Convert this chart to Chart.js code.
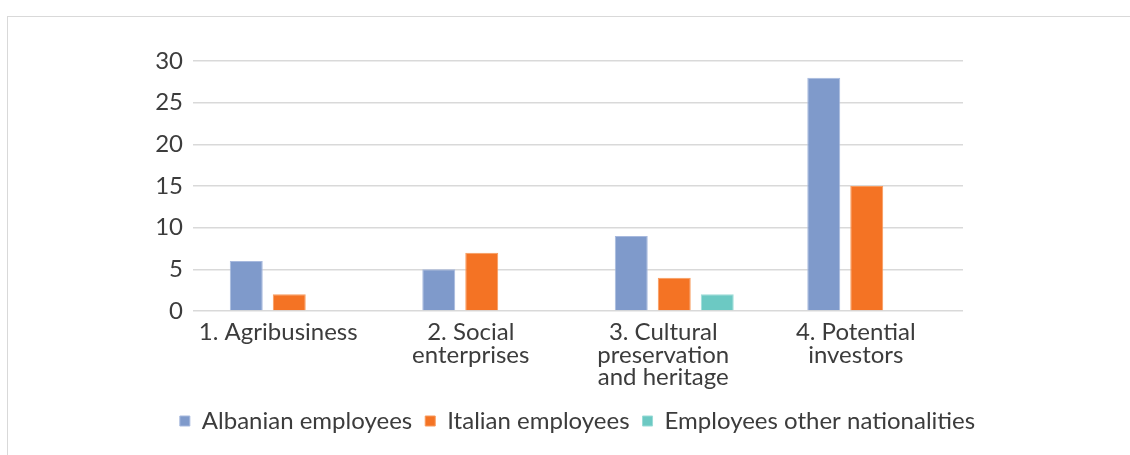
<!DOCTYPE html>
<html>
<head>
<meta charset="utf-8">
<script src="https://cdn.jsdelivr.net/npm/chart.js@4.4.0/dist/chart.umd.min.js"></script>
<style>
  html, body { margin: 0; padding: 0; background: #fff; }
  #frame {
    position: absolute; left: 7px; top: 16px;
    width: 1200px; height: 500px;
    border: 1.5px solid #d9d9d9;
  }
  #wrap { position: absolute; left: 0; top: 0; width: 1130px; height: 455px; }
</style>
</head>
<body>
<div id="frame"></div>
<div id="wrap"><canvas id="myChart" width="1130" height="455"></canvas></div>
<script>
const categories = [
  "1. Agribusiness",
  ["2. Social", "enterprises"],
  ["3. Cultural", "preservation", "and heritage"],
  ["4. Potential", "investors"],
];
const albanian = [6, 5, 9, 28];
const italian = [2, 7, 4, 15];
const otherNat = [0, 0, 2, 0];
const yTicks = [0, 5, 10, 15, 20, 25, 30];

const FONT = "Lato, 'Open Sans', sans-serif";
const TEXT = "#3c3c3c";

window.onload = function () {
  const ctx = document.getElementById("myChart").getContext("2d");
  new Chart(ctx, {
    type: "bar",
    data: {
      labels: categories,
      datasets: [
        {
          label: "Albanian employees",
          data: albanian,
          backgroundColor: "#7f9acb",
          borderColor: "#a7b9de",
          borderWidth: 1,
        },
        {
          label: "Italian employees",
          data: italian,
          backgroundColor: "#f47324",
          borderColor: "#f89a5c",
          borderWidth: 1,
        },
        {
          label: "Employees other nationalities",
          data: otherNat,
          backgroundColor: "#6cc9c3",
          borderColor: "#9adcd7",
          borderWidth: 1,
        },
      ],
    },
    options: {
      responsive: false,
      animation: false,
      categoryPercentage: 0.67,
      barPercentage: 0.767,
      layout: {
        padding: { left: 25, right: 0, top: 61, bottom: 12 },
      },
      plugins: {
        legend: {
          position: "bottom",
          labels: {
            boxWidth: 10,
            boxHeight: 10,
            padding: 13,
            color: TEXT,
            font: { family: FONT, size: 24 },
          },
        },
        tooltip: { enabled: false },
      },
      scales: {
        x: {
          grid: { display: false, drawTicks: false },
          border: { display: false },
          ticks: {
            color: TEXT,
            padding: 10,
            labelOffset: -11,
            maxRotation: 0,
            autoSkip: false,
            font: { family: FONT, size: 24, lineHeight: 0.94 },
          },
          afterFit: (scale) => {
            scale.height = 85;
            // let the third label line run below the axis box
            scale._computeLabelArea = () => undefined;
          },
        },
        y: {
          min: 0,
          max: 30,
          grid: { color: "#d9d9d9", lineWidth: 1.5, drawTicks: false },
          border: { display: false },
          afterBuildTicks: (scale) => {
            scale.ticks = yTicks.map((v) => ({ value: v }));
          },
          ticks: {
            color: TEXT,
            padding: 10,
            font: { family: FONT, size: 24 },
          },
          afterFit: (scale) => {
            scale.width = 168;
          },
        },
        // empty right axis, only keeps the plot area off the right edge
        yRight: {
          position: "right",
          min: 0,
          max: 30,
          grid: { display: false },
          border: { display: false },
          ticks: { display: false },
          afterFit: (scale) => {
            scale.width = 167;
          },
        },
      },
    },
  });
};
</script>
</body>
</html>
